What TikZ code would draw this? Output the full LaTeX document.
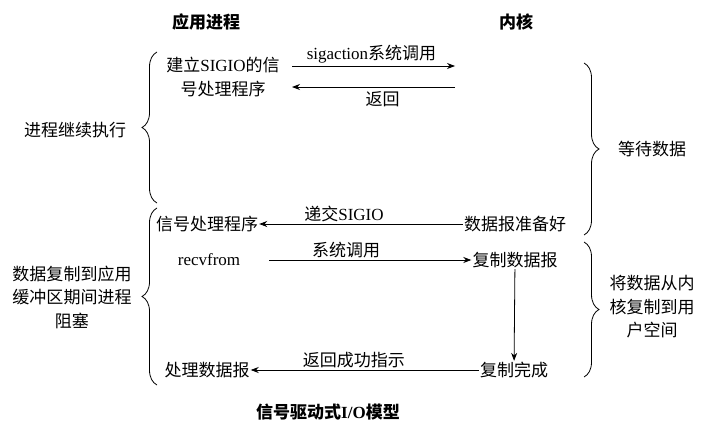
\documentclass[tikz,border=0pt]{standalone}
\usepackage{fontspec}
\setmainfont{Liberation Serif}
\newfontfamily\cjk{Noto Sans CJK SC}
\newcommand\lat[1]{{\rmfamily #1}}
\usetikzlibrary{arrows.meta,decorations.pathreplacing}
\begin{document}
\begin{tikzpicture}[x=1pt,y=-1pt,
  txt/.style={inner sep=1pt,font=\fontsize{17}{23.5}\selectfont\cjk,align=center},
  head/.style={inner sep=1pt,font=\fontsize{17}{20}\selectfont\cjk\bfseries},
  arr/.style={draw,line width=0.8pt,-{Stealth[length=8pt,width=6pt]}},
  brc/.style={draw,line width=0.8pt,decorate,decoration={brace,amplitude=15pt}}]
\useasboundingbox (0,0) rectangle (711,436);

% column headings and caption
\node[head] (happ) at (206,22) {应用进程};
\node[head] (hker) at (516,22) {内核};
\node[head] (cap) at (328,412) {信号驱动式\lat{I/O}模型};

% application side
\node[txt] (setup) at (223,77) {建立\lat{SIGIO}的信\\号处理程序};
\node[txt] (sig) at (207,224) {信号处理程序};
\node[txt] (recv) at (209,260) {\lat{recvfrom}};
\node[txt] (proc) at (207,370) {处理数据报};

% kernel side
\node[txt] (ready) at (515,224) {数据报准备好};
\node[txt] (copy) at (515,260) {复制数据报};
\node[txt] (done) at (514,370) {复制完成};

% free ends of the sigaction exchange
\coordinate (sa1) at (292,66);
\coordinate (sa2) at (455,66);
\coordinate (rt1) at (455,87);
\coordinate (rt2) at (292,87);
\coordinate (rv) at (269,260);

% messages
\draw[arr] (sa1) -- (sa2) node[txt,midway,above=1pt,xshift=-2pt] (lsa) {\lat{sigaction}系统调用};
\draw[arr] (rt1) -- (rt2) node[txt,midway,below=3pt,xshift=9pt] (lrt) {返回};
\draw[arr] (ready) -- (sig) node[txt,midway,above=1pt,xshift=-17pt] (lsig) {递交\lat{SIGIO}};
\draw[arr] (rv) -- (copy) node[txt,midway,above=1pt,xshift=-24pt] (lsys) {系统调用};
\draw[arr] (copy) -- (done);
\draw[arr] (done) -- (proc) node[txt,midway,above=1pt,xshift=-11pt] (lok) {返回成功指示};

% braces on the application side
\draw[brc] (157,203) -- (157,52);
\draw[brc] (157,385) -- (157,208);
\node[txt] (cont) at (75,130) {进程继续执行};
\node[txt] (block) at (72,297) {数据复制到应用\\缓冲区期间进程\\阻塞};

% braces on the kernel side
\draw[brc] (584,63) -- (584,235);
\draw[brc] (584,242) -- (584,377);
\node[txt] (wait) at (652,149) {等待数据};
\node[txt] (kcopy) at (652,307) {将数据从内\\核复制到用\\户空间};
\end{tikzpicture}
\end{document}
